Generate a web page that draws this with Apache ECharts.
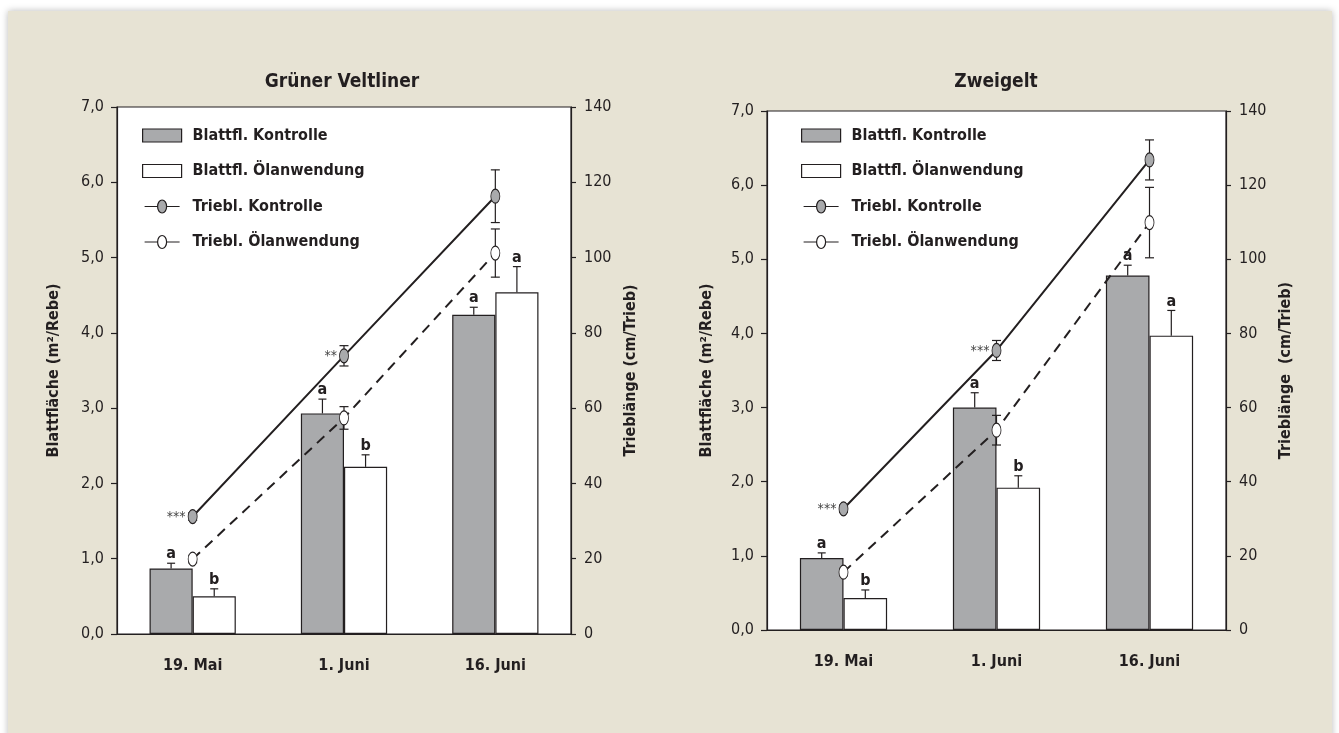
<!DOCTYPE html>
<html><head><meta charset="utf-8">
<script src="https://cdn.jsdelivr.net/npm/echarts@6/dist/echarts.min.js"></script>
<style>
html,body{margin:0;padding:0;background:#fff;width:1339px;height:733px;overflow:hidden}
#panel{position:absolute;left:8px;top:11px;width:1324px;height:740px;background:#e7e3d4;box-shadow:0 0 7px rgba(0,0,0,0.28)}
#chart{position:absolute;left:0;top:0;width:1339px;height:733px}
</style></head><body>
<div id="panel"></div><div id="chart"></div>
<script>
// ---------- data ----------
const categories = ['19. Mai', '1. Juni', '16. Juni'];
const titles = ['Grüner Veltliner', 'Zweigelt'];
const seriesNames = ['Blattfl. Kontrolle', 'Blattfl. Ölanwendung', 'Triebl. Kontrolle', 'Triebl. Ölanwendung'];
const leftAxisNames = ['Blattfläche (m²/Rebe)', 'Blattfläche (m²/Rebe)'];
const rightAxisNames = ['Trieblänge (cm/Trieb)', 'Trieblänge  (cm/Trieb)'];
const leftAxisMin = 0, leftAxisMax = 7, leftAxisInterval = 1;
const rightAxisMin = 0, rightAxisMax = 140, rightAxisInterval = 20;

// Grüner Veltliner
const gvBlattKontrolle = [0.87, 2.93, 4.24];
const gvBlattKontrolleErr = [0.07, 0.19, 0.10];
const gvBlattOel = [0.50, 2.22, 4.54];
const gvBlattOelErr = [0.10, 0.16, 0.34];
const gvTriebKontrolle = [31.2, 73.9, 116.3];
const gvTriebKontrolleErr = [1.0, 2.7, 7.0];
const gvTriebOel = [19.9, 57.4, 101.2];
const gvTriebOelErr = [1.0, 3.0, 6.4];
const gvLettersKontrolle = ['a', 'a', 'a'];
const gvLettersOel = ['b', 'b', 'a'];
const gvStars = ['***', '**', ''];

// Zweigelt
const zwBlattKontrolle = [0.97, 3.00, 4.78];
const zwBlattKontrolleErr = [0.07, 0.20, 0.14];
const zwBlattOel = [0.43, 1.92, 3.97];
const zwBlattOelErr = [0.11, 0.16, 0.34];
const zwTriebKontrolle = [32.7, 75.4, 126.8];
const zwTriebKontrolleErr = [1.0, 2.7, 5.4];
const zwTriebOel = [15.6, 53.9, 109.9];
const zwTriebOelErr = [1.0, 4.0, 9.5];
const zwLettersKontrolle = ['a', 'a', 'a'];
const zwLettersOel = ['b', 'b', 'a'];
const zwStars = ['***', '***', ''];

// ---------- style ----------
const FONT = '"Liberation Sans Narrow","DejaVu Sans Condensed","Roboto Condensed","Noto Sans",sans-serif';
const INK = '#231f20';
const GRAY = '#a9aaac';
const BAR_FRAC = 0.285;
const OVAL = 'path://M5,0 C7.76,0 10,4.48 10,10 C10,15.52 7.76,20 5,20 C2.24,20 0,15.52 0,10 C0,4.48 2.24,0 5,0 Z';
const LEG_OVAL = 'path://M2,6.5 L15,6.5 M19.5,0 C22,0 24,2.9 24,6.5 C24,10.1 22,13 19.5,13 C17,13 15,10.1 15,6.5 C15,2.9 17,0 19.5,0 Z M24,6.5 L37,6.5';

const charts = [
  {bk: gvBlattKontrolle, bkE: gvBlattKontrolleErr, bo: gvBlattOel, boE: gvBlattOelErr,
   tk: gvTriebKontrolle, tkE: gvTriebKontrolleErr, to: gvTriebOel, toE: gvTriebOelErr,
   lk: gvLettersKontrolle, lo: gvLettersOel, stars: gvStars},
  {bk: zwBlattKontrolle, bkE: zwBlattKontrolleErr, bo: zwBlattOel, boE: zwBlattOelErr,
   tk: zwTriebKontrolle, tkE: zwTriebKontrolleErr, to: zwTriebOel, toE: zwTriebOelErr,
   lk: zwLettersKontrolle, lo: zwLettersOel, stars: zwStars}
];
const grids = [
  {left: 117, top: 107, width: 454, height: 527},
  {left: 767, top: 111, width: 459, height: 519}
];
const titleX = [337, 991];
const legendX = [142, 801];
const leftNameGap = [55, 52];
const rightNameGap = [52, 52];

function errData(vals, errs) { return categories.map((c, i) => [i, vals[i], errs[i]]); }

function barErr(sign, letters) {
  return function (params, api) {
    const i = api.value(0), v = api.value(1), e = api.value(2);
    const c = api.coord([i, v]);
    const t = api.coord([i, v + e]);
    const bw = api.size([1, 0])[0] * BAR_FRAC;
    const x = c[0] + sign * bw / 2;
    const st = {stroke: INK, lineWidth: 1.2};
    return {type: 'group', children: [
      {type: 'line', shape: {x1: x, y1: c[1], x2: x, y2: t[1]}, style: st},
      {type: 'line', shape: {x1: x - 4, y1: t[1], x2: x + 4, y2: t[1]}, style: st},
      {type: 'text', style: {x: x, y: t[1] - 1, text: letters[i], align: 'center', verticalAlign: 'bottom',
        fontSize: 16, fontWeight: 'bold', fontFamily: FONT, fill: INK}}
    ]};
  };
}
function lineErr(stars) {
  return function (params, api) {
    const i = api.value(0), v = api.value(1), e = api.value(2);
    const c = api.coord([i, v]);
    const lo = api.coord([i, v - e]);
    const hi = api.coord([i, v + e]);
    const st = {stroke: INK, lineWidth: 1.2};
    const ch = [
      {type: 'line', shape: {x1: c[0], y1: lo[1], x2: c[0], y2: hi[1]}, style: st},
      {type: 'line', shape: {x1: c[0] - 4.5, y1: lo[1], x2: c[0] + 4.5, y2: lo[1]}, style: st},
      {type: 'line', shape: {x1: c[0] - 4.5, y1: hi[1], x2: c[0] + 4.5, y2: hi[1]}, style: st}
    ];
    if (stars && stars[i]) {
      ch.push({type: 'text', style: {x: c[0] - 7, y: c[1] + 1, text: stars[i], align: 'right', verticalAlign: 'middle',
        fontSize: 14, fontFamily: FONT, fill: '#444'}});
    }
    return {type: 'group', children: ch};
  };
}

const option = {
  backgroundColor: 'transparent',
  animation: false,
  title: [], legend: [], grid: [], xAxis: [], yAxis: [], series: []
};

charts.forEach((d, k) => {
  option.title.push({text: titles[k], left: titleX[k], top: 68, textAlign: 'center',
    textStyle: {fontSize: 19, fontWeight: 'bold', fontFamily: FONT, color: INK}});
  option.grid.push(Object.assign({show: true, backgroundColor: '#fff', borderColor: INK, borderWidth: 1.2}, grids[k]));
  option.legend.push({
    orient: 'vertical', left: legendX[k], top: 127.5, padding: 0, itemWidth: 39, itemHeight: 13, itemGap: 19.5,
    selectedMode: false,
    itemStyle: {borderWidth: 1},
    textStyle: {fontSize: 16, fontWeight: 'bold', fontFamily: FONT, color: INK, padding: [0, 0, 0, 6]},
    data: [
      {name: seriesNames[0], icon: 'rect', itemStyle: {color: GRAY, borderColor: INK, borderWidth: 1.2}},
      {name: seriesNames[1], icon: 'rect', itemStyle: {color: '#fff', borderColor: INK, borderWidth: 1.2}},
      {name: seriesNames[2], icon: LEG_OVAL, itemStyle: {color: GRAY, borderColor: INK, borderWidth: 1.2}},
      {name: seriesNames[3], icon: LEG_OVAL, itemStyle: {color: '#fff', borderColor: INK, borderWidth: 1.2}}
    ]
  });
  option.xAxis.push({
    type: 'category', gridIndex: k, data: categories,
    axisLine: {lineStyle: {color: INK, width: 1.2}},
    axisTick: {length: 6, lineStyle: {color: INK, width: 1.2}},
    axisLabel: {margin: 24, fontSize: 16, fontWeight: 'bold', fontFamily: FONT, color: INK}
  });
  option.yAxis.push({
    type: 'value', gridIndex: k, position: 'left', min: leftAxisMin, max: leftAxisMax, interval: leftAxisInterval,
    name: leftAxisNames[k], nameLocation: 'middle', nameGap: leftNameGap[k],
    nameTextStyle: {fontSize: 16, fontWeight: 'bold', fontFamily: FONT, color: INK},
    splitLine: {show: false},
    axisLine: {show: true, lineStyle: {color: INK, width: 1.2}},
    axisTick: {show: true, length: 6, lineStyle: {color: INK, width: 1.2}},
    axisLabel: {margin: 13, fontSize: 16, fontFamily: FONT, color: INK,
      formatter: v => v.toFixed(1).replace('.', ',')}
  });
  option.yAxis.push({
    type: 'value', gridIndex: k, position: 'right', min: rightAxisMin, max: rightAxisMax, interval: rightAxisInterval,
    name: rightAxisNames[k], nameLocation: 'middle', nameGap: rightNameGap[k],
    nameTextStyle: {fontSize: 16, fontWeight: 'bold', fontFamily: FONT, color: INK},
    splitLine: {show: false},
    axisLine: {show: true, lineStyle: {color: INK, width: 1.2}},
    axisTick: {show: true, length: 5, lineStyle: {color: INK, width: 1.2}},
    axisLabel: {margin: 13, fontSize: 16, fontFamily: FONT, color: INK}
  });
  const xi = k, yl = 2 * k, yr = 2 * k + 1;
  option.series.push(
    {type: 'bar', name: seriesNames[0], xAxisIndex: xi, yAxisIndex: yl, data: d.bk, barWidth: (BAR_FRAC * 100) + '%', barGap: '0%',
      itemStyle: {color: GRAY, borderColor: INK, borderWidth: 1.2}, z: 2},
    {type: 'bar', name: seriesNames[1], xAxisIndex: xi, yAxisIndex: yl, data: d.bo, barWidth: (BAR_FRAC * 100) + '%', barGap: '0%',
      itemStyle: {color: '#fff', borderColor: INK, borderWidth: 1.2}, z: 2},
    {type: 'custom', xAxisIndex: xi, yAxisIndex: yl, data: errData(d.bk, d.bkE), renderItem: barErr(-1, d.lk), z: 3, silent: true},
    {type: 'custom', xAxisIndex: xi, yAxisIndex: yl, data: errData(d.bo, d.boE), renderItem: barErr(1, d.lo), z: 3, silent: true},
    {type: 'custom', xAxisIndex: xi, yAxisIndex: yr, data: errData(d.tk, d.tkE), renderItem: lineErr(d.stars), z: 4, silent: true},
    {type: 'custom', xAxisIndex: xi, yAxisIndex: yr, data: errData(d.to, d.toE), renderItem: lineErr(null), z: 4, silent: true},
    {type: 'line', name: seriesNames[2], xAxisIndex: xi, yAxisIndex: yr, data: d.tk, symbol: OVAL, symbolSize: [9, 14],
      lineStyle: {color: INK, width: 2}, itemStyle: {color: GRAY, borderColor: INK, borderWidth: 1}, z: 5},
    {type: 'line', name: seriesNames[3], xAxisIndex: xi, yAxisIndex: yr, data: d.to, symbol: OVAL, symbolSize: [9, 14],
      lineStyle: {color: INK, width: 2, type: [10, 7]}, itemStyle: {color: '#fff', borderColor: INK, borderWidth: 1}, z: 5}
  );
});

const chart = echarts.init(document.getElementById('chart'), null, {renderer: 'canvas'});
chart.setOption(option);
</script>
</body></html>
